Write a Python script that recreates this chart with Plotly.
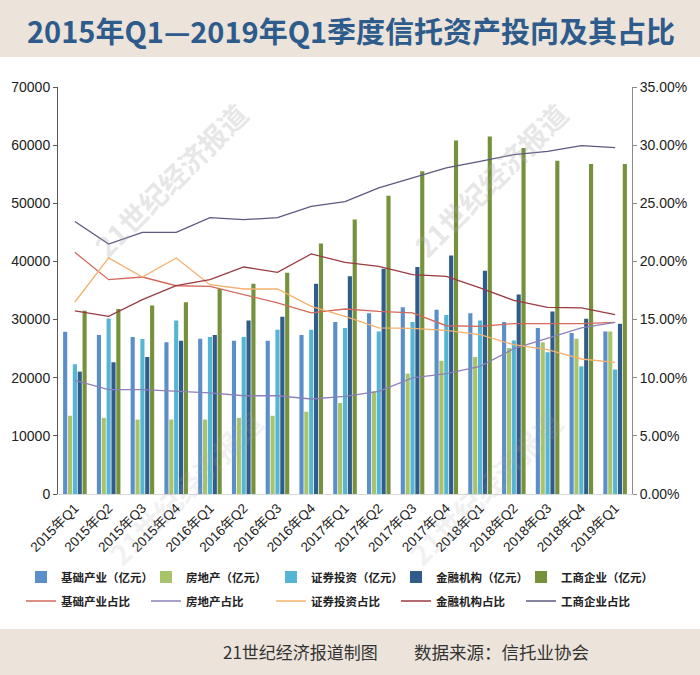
import plotly.graph_objects as go

categories = ["2015年Q1", "2015年Q2", "2015年Q3", "2015年Q4",
              "2016年Q1", "2016年Q2", "2016年Q3", "2016年Q4",
              "2017年Q1", "2017年Q2", "2017年Q3", "2017年Q4",
              "2018年Q1", "2018年Q2", "2018年Q3", "2018年Q4",
              "2019年Q1"]

# 亿元
infra = [27900, 27350, 27000, 26100, 26700, 26350, 26350, 27350, 29600,
         31100, 32100, 31700, 31100, 29600, 28550, 27700, 27950]
realestate = [13450, 13100, 12800, 12800, 12800, 13100, 13450, 14150, 15650,
              17650, 20700, 22900, 23550, 25100, 26100, 26700, 27950]
securities = [22300, 30200, 26650, 29850, 27000, 27000, 28250, 28250, 28550,
              27950, 29600, 30800, 29850, 26400, 24400, 21950, 21400]
financial = [21050, 22650, 23550, 26350, 27350, 29850, 30500, 36150, 37450,
             38750, 39050, 41000, 38400, 34300, 31400, 30150, 29300]
commerce = [31500, 31800, 32400, 33000, 35250, 36150, 38050, 43100, 47200,
            51300, 55500, 60800, 61500, 59500, 57300, 56750, 56750]

# 占比 (%)
infra_pct = [20.78, 18.43, 18.66, 17.91, 17.85, 17.14, 16.43, 15.57, 15.91,
             15.70, 15.57, 14.47, 14.41, 14.65, 14.65, 14.65, 14.76]
realestate_pct = [9.77, 8.97, 8.97, 8.82, 8.69, 8.45, 8.45, 8.17, 8.39,
                  8.82, 9.98, 10.35, 10.97, 12.50, 13.42, 14.28, 14.76]
securities_pct = [16.51, 20.30, 18.66, 20.30, 18.00, 17.63, 17.63, 16.13, 15.27,
                  14.28, 14.24, 14.07, 13.70, 12.84, 12.41, 11.61, 11.32]
financial_pct = [15.74, 15.27, 16.71, 17.91, 18.43, 19.52, 19.06, 20.64, 19.92,
                 19.57, 18.86, 18.71, 17.72, 16.65, 16.05, 16.00, 15.42]
commerce_pct = [23.44, 21.50, 22.50, 22.50, 23.76, 23.59, 23.76, 24.73, 25.14,
                26.32, 27.18, 28.04, 28.60, 29.18, 29.46, 29.95, 29.78]

left_ticks = [0, 10000, 20000, 30000, 40000, 50000, 60000, 70000]
right_ticks = [0, 0.05, 0.10, 0.15, 0.20, 0.25, 0.30, 0.35]

bar_series = [
    ("基础产业（亿元）", infra, "#5b8fc9"),
    ("房地产（亿元）", realestate, "#a7c46b"),
    ("证券投资（亿元）", securities, "#55b5d3"),
    ("金融机构（亿元）", financial, "#2f5c8a"),
    ("工商企业（亿元）", commerce, "#76913c"),
]
line_series = [
    ("基础产业占比", infra_pct, "#d2695c"),
    ("房地产占比", realestate_pct, "#8c80bb"),
    ("证券投资占比", securities_pct, "#f4b06e"),
    ("金融机构占比", financial_pct, "#9a3a42"),
    ("工商企业占比", commerce_pct, "#5b5a80"),
]

CJK = "Noto Sans CJK SC"
LAT = "Liberation Sans, Arial, Noto Sans CJK SC"

fig = go.Figure()
for name, vals, color in bar_series:
    fig.add_trace(go.Bar(x=categories, y=vals, name=name,
                         marker=dict(color=color, line=dict(width=0)),
                         legend="legend"))
for name, vals, color in line_series:
    fig.add_trace(go.Scatter(x=categories, y=[v / 100 for v in vals], name=name,
                             mode="lines", line=dict(color=color, width=1.3),
                             yaxis="y2", legend="legend2"))

# pixel -> paper helpers (plot area: x 58..632, y 87..494)
def px(x):
    return (x - 58) / 574.0

def py(y):
    return (494 - y) / 407.0

shapes = [
    dict(type="rect", xref="paper", yref="paper", x0=px(-10), x1=px(710),
         y0=py(57), y1=py(-10), fillcolor="#ece3da", line=dict(width=0), layer="below"),
    dict(type="rect", xref="paper", yref="paper", x0=px(-10), x1=px(710),
         y0=py(685), y1=py(629), fillcolor="#ece3da", line=dict(width=0), layer="below"),
]

annotations = [
    dict(text="<b>2015年Q1—2019年Q1季度信托资产投向及其占比</b>", xref="paper", yref="paper",
         x=px(351), y=py(30), xanchor="center", yanchor="middle", showarrow=False,
         font=dict(family=CJK, size=29, color="#2d5b8b")),
    dict(text="21世纪经济报道制图", xref="paper", yref="paper", x=px(300), y=py(651),
         xanchor="center", yanchor="middle", showarrow=False,
         font=dict(family=CJK, size=17, color="#333333")),
    dict(text="数据来源：信托业协会", xref="paper", yref="paper", x=px(501), y=py(651),
         xanchor="center", yanchor="middle", showarrow=False,
         font=dict(family=CJK, size=17.5, color="#333333")),
]
for (cx, cy, a) in [(170, 180, 0.30), (490, 180, 0.30), (185, 488, 0.18), (485, 488, 0.18)]:
    annotations.append(dict(text="<b>21世纪经济报道</b>", xref="paper", yref="paper",
                            x=px(cx), y=py(cy), xanchor="center", yanchor="middle",
                            showarrow=False, textangle=-45,
                            font=dict(family=CJK, size=28, color=f"rgba(170,170,170,{a})")))

fig.update_layout(
    width=700, height=675,
    margin=dict(l=58, r=68, t=87, b=181),
    paper_bgcolor="white", plot_bgcolor="rgba(0,0,0,0)",
    barmode="group", bargap=0.28, bargroupgap=0.15,
    xaxis=dict(type="category", tickangle=-45, showgrid=False,
               showline=True, linecolor="#d9d9d9", linewidth=1, ticks="",
               tickfont=dict(family=LAT, size=13.5, color="#222222")),
    yaxis=dict(range=[0, 70000], tickvals=left_ticks, tickformat="d",
               showgrid=False, zeroline=False,
               showline=True, linecolor="#595959", linewidth=1, ticks="outside",
               ticklen=4, tickcolor="#595959",
               tickfont=dict(family=LAT, size=14, color="#222222")),
    yaxis2=dict(range=[0, 0.35], tickvals=right_ticks, tickformat=".2%",
                overlaying="y", side="right", showgrid=False, zeroline=False,
                showline=True, linecolor="#8c8c8c", linewidth=1, ticks="outside",
                ticklen=4, tickcolor="#8c8c8c",
                tickfont=dict(family=LAT, size=14, color="#222222")),
    legend=dict(orientation="h", x=px(21), y=py(577), xanchor="left", yanchor="middle",
                entrywidth=80, entrywidthmode="pixels", bgcolor="rgba(0,0,0,0)",
                font=dict(family=CJK, size=11.5, color="#222222", weight="bold")),
    legend2=dict(orientation="h", x=px(21), y=py(601), xanchor="left", yanchor="middle",
                 entrywidth=80, entrywidthmode="pixels", bgcolor="rgba(0,0,0,0)",
                 font=dict(family=CJK, size=11.5, color="#222222", weight="bold")),
    shapes=shapes,
    annotations=annotations,
    showlegend=True,
)

fig.write_html("out.html",
               config={"displayModeBar": False},
               post_script="document.body.style.margin='0px';document.body.style.overflow='hidden';")
